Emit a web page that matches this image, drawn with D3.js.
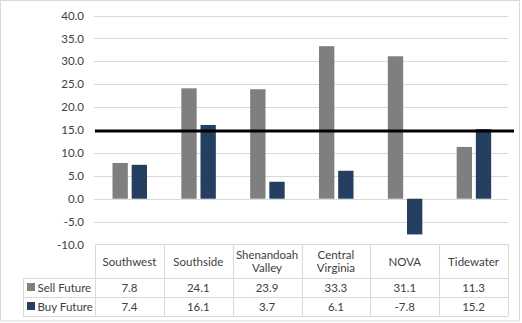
<!DOCTYPE html>
<html><head><meta charset="utf-8">
<script src="https://cdn.jsdelivr.net/npm/d3@7"></script>
<style>body{margin:0;background:#fff}svg{display:block}text{font-family:Lato,"Open Sans",sans-serif;fill:#404040}</style>
</head><body>
<svg id="c" width="522" height="323"></svg>
<script>
const categories = ["Southwest","Southside","Shenandoah Valley","Central Virginia","NOVA","Tidewater"];
const categoryLines = [["Southwest"],["Southside"],["Shenandoah","Valley"],["Central","Virginia"],["NOVA"],["Tidewater"]];
const seriesNames = ["Sell Future","Buy Future"];
const sellFuture = [7.8,24.1,23.9,33.3,31.1,11.3];
const buyFuture = [7.4,16.1,3.7,6.1,-7.8,15.2];
const yTicks = [40,35,30,25,20,15,10,5,0,-5,-10];
const threshold = [15];
const colors = ["#7f7f7f","#253f61"];

const fmt = d => d3.format(".1f")(d).replace("\u2212","-");
const series = [sellFuture, buyFuture];
const svg = d3.select("#c");
svg.append("rect").attr("x",0.5).attr("y",0.5).attr("width",519).attr("height",320.5)
  .attr("fill","#fff").attr("stroke","#d9d9d9");

const left = 95, right = 508;
const y = d3.scaleLinear().domain([-10,40]).range([244.5,15.5]);
const x = d3.scaleBand().domain(categories).range([left,right]);
const xs = d3.scaleBand().domain(seriesNames).range([17.5,52]).paddingInner(0.2);

// gridlines
svg.append("g").selectAll("line").data(yTicks.filter(t=>t>-10)).join("line")
  .attr("x1",left-1).attr("x2",right).attr("y1",d=>Math.round(y(d))+0.5).attr("y2",d=>Math.round(y(d))+0.5)
  .attr("stroke","#d9d9d9").attr("stroke-width",1);

// y axis labels
const yAxis = d3.axisLeft(y).tickValues(yTicks).tickFormat(fmt).tickSize(0).tickPadding(0);
const ga = svg.append("g").attr("transform","translate(84,0)").call(yAxis);
ga.select(".domain").remove();
ga.selectAll("text").attr("font-size",11.5).attr("fill","#595959").style("font-family","Lato,'Open Sans',sans-serif");

// bars
series.forEach((vals,si)=>{
  svg.append("g").selectAll("rect").data(vals).join("rect")
    .attr("x",(d,i)=>x(categories[i])+xs(seriesNames[si]))
    .attr("width",xs.bandwidth())
    .attr("y",d=>Math.min(y(d),y(0)))
    .attr("height",d=>Math.abs(y(d)-y(0)))
    .attr("fill",colors[si]);
});

// threshold line
svg.append("g").selectAll("line").data(threshold).join("line")
  .attr("x1",left).attr("x2",514).attr("y1",d=>y(d)+1).attr("y2",d=>y(d)+1)
  .attr("stroke","#000").attr("stroke-width",3);

// data table
const rowY = [244,278,297,316];
const tbl = svg.append("g").attr("stroke","#d9d9d9").attr("stroke-width",1);
const colX = categories.map(c=>x(c)).concat([right]);
tbl.append("line").attr("x1",left).attr("x2",right).attr("y1",rowY[0]+0.5).attr("y2",rowY[0]+0.5);
[1,2,3].forEach(r=>tbl.append("line").attr("x1",23).attr("x2",right).attr("y1",rowY[r]+0.5).attr("y2",rowY[r]+0.5));
colX.forEach(cx=>tbl.append("line").attr("x1",Math.round(cx)+0.5).attr("x2",Math.round(cx)+0.5).attr("y1",rowY[0]).attr("y2",rowY[3]));
tbl.append("line").attr("x1",23.5).attr("x2",23.5).attr("y1",rowY[1]).attr("y2",rowY[3]);

// header text
categoryLines.forEach((lines,i)=>{
  const cx = x(categories[i]) + x.bandwidth()/2;
  const t = svg.append("text").attr("x",cx).attr("text-anchor","middle").attr("font-size",11.5).attr("fill","#404040");
  const y0 = lines.length===1 ? 265.5 : 259;
  lines.forEach((l,j)=>t.append("tspan").attr("x",cx).attr("y",y0+j*13).text(l));
});
// values rows
series.forEach((vals,si)=>{
  const cy = (rowY[si+1]+rowY[si+2])/2 + 4;
  svg.append("g").selectAll("text").data(vals).join("text")
    .attr("x",(d,i)=>x(categories[i])+x.bandwidth()/2).attr("y",cy)
    .attr("text-anchor","middle").attr("font-size",11.5).attr("fill","#404040")
    .text(fmt);
  svg.append("rect").attr("x",27).attr("y",cy-8.5).attr("width",8).attr("height",8).attr("fill",colors[si]);
  svg.append("text").attr("x",37.5).attr("y",cy).attr("font-size",11.5).attr("fill","#404040").text(seriesNames[si]);
});
</script>
</body></html>
